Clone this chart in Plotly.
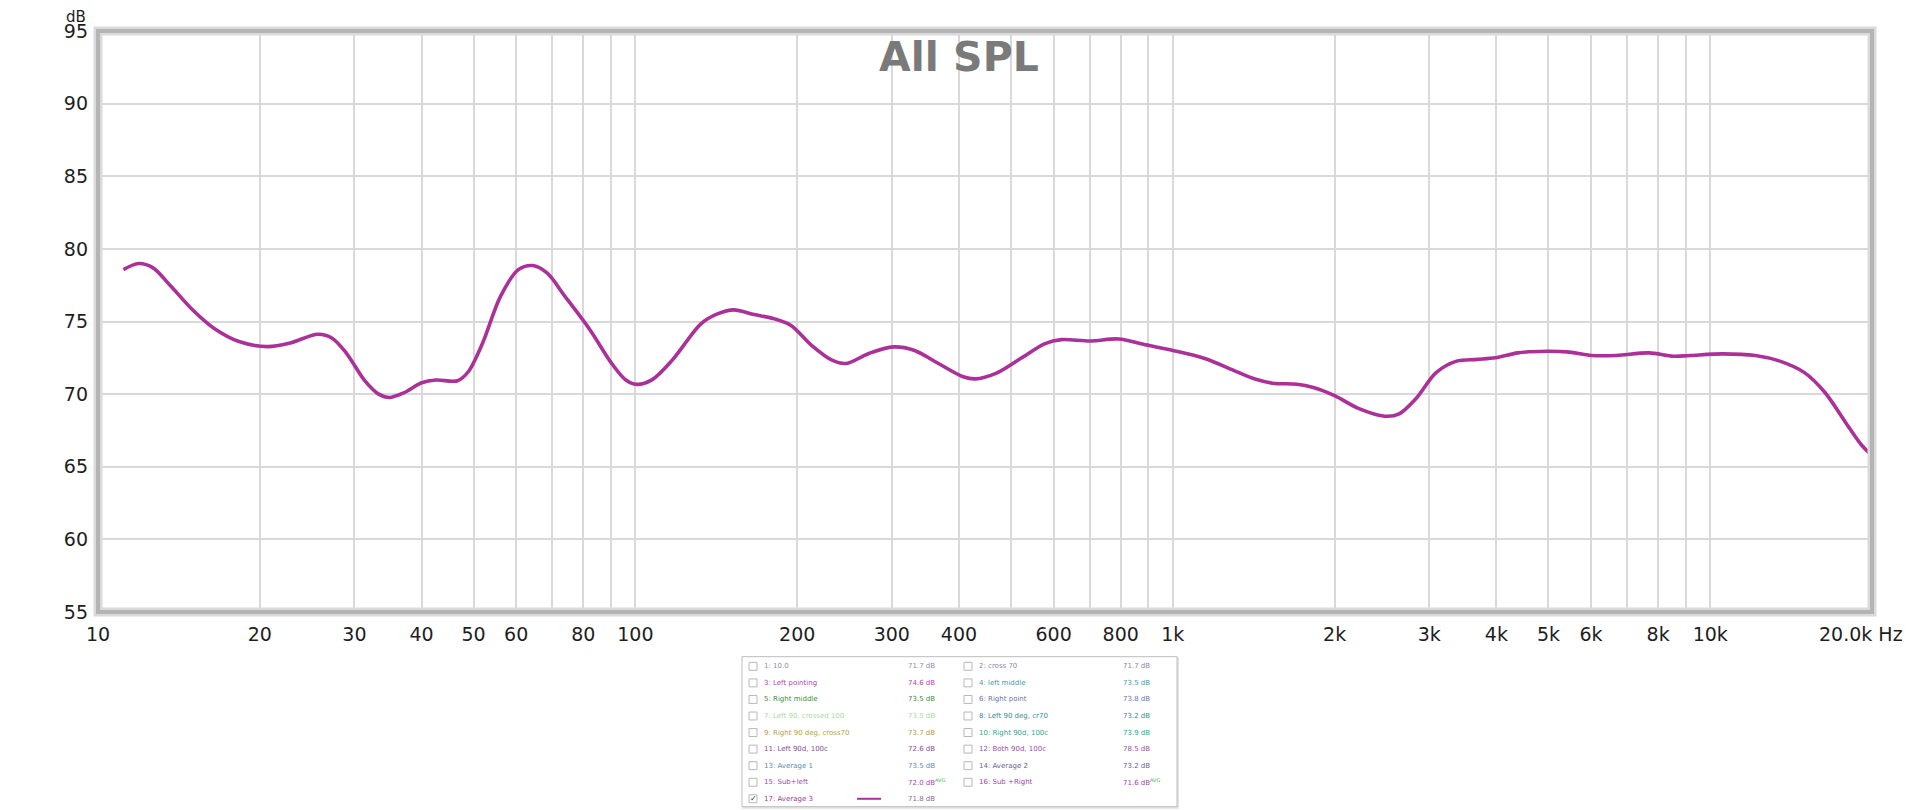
import math
import plotly.graph_objects as go

# ---------------- data ----------------
freq_hz = [11.15, 11.9, 12.66, 13.67, 14.99, 16.43, 18.3, 20.69, 22.69, 25.65, 27.27, 29.0,
           31.3, 33.3, 34.85, 37.06, 40.02, 42.56, 46.67, 48.86, 51.94, 56.1, 60.56, 64.4,
           68.47, 73.95, 82.34, 90.29, 95.99, 100.5, 107.3, 117.1, 132.4, 142.1, 152.4,
           166.3, 181.6, 194.8, 212.7, 232.2, 246.9, 271.9, 302.1, 329.9, 366.4, 407.2,
           429.1, 468.5, 520.6, 578.5, 620.3, 701.5, 793.2, 881.4, 996.5, 1147, 1310,
           1428, 1532, 1702, 1826, 2000, 2214, 2481, 2638, 2830, 3090, 3373, 3681, 3985,
           4387, 4960, 5415, 6015, 6683, 7690, 8543, 9165, 10546, 12133, 13478, 14977,
           16350, 17845, 19137, 19822]
spl_db = [78.57, 78.99, 78.69, 77.42, 75.81, 74.54, 73.62, 73.27, 73.5, 74.12, 73.85, 72.81,
          70.97, 70.0, 69.77, 70.09, 70.78, 70.97, 70.92, 71.54, 73.5, 76.73, 78.57, 78.85,
          78.34, 76.73, 74.42, 72.12, 70.97, 70.67, 70.98, 72.34, 74.84, 75.52, 75.8,
          75.48, 75.18, 74.73, 73.36, 72.34, 72.11, 72.8, 73.25, 73.02, 72.11, 71.2,
          71.05, 71.43, 72.45, 73.48, 73.75, 73.66, 73.8, 73.43, 73.02, 72.45, 71.57,
          71.02, 70.75, 70.68, 70.45, 69.89, 69.02, 68.48, 68.64, 69.66, 71.48, 72.27, 72.39, 72.5,
          72.84, 72.95, 72.91, 72.66, 72.66, 72.84, 72.61, 72.66, 72.77, 72.66, 72.27, 71.48,
          70.11, 68.07, 66.48, 65.91]

y_ticks = [55, 60, 65, 70, 75, 80, 85, 90, 95]
x_ticks = [10, 20, 30, 40, 50, 60, 80, 100, 200, 300, 400, 600, 800, 1000,
           2000, 3000, 4000, 5000, 6000, 8000, 10000]
x_tick_text = ["10", "20", "30", "40", "50", "60", "80", "100", "200", "300", "400", "600",
               "800", "1k", "2k", "3k", "4k", "5k", "6k", "8k", "10k"]
x_minor_grid = [70, 90, 500, 700, 900, 7000, 9000, 20000]
x_end_label = "20.0k Hz"

legend_names = ["1: 10.0", "2: cross 70", "3: Left pointing", "4: left middle", "5: Right middle",
                "6: Right point", "7: Left 90, crossed 100", "8: Left 90 deg, cr70",
                "9: Right 90 deg, cross70", "10: Right 90d, 100c", "11: Left 90d, 100c",
                "12: Both 90d, 100c", "13: Average 1", "14: Average 2", "15: Sub+left",
                "16: Sub +Right", "17: Average 3"]
legend_values = ["71.7 dB", "71.7 dB", "74.6 dB", "73.5 dB", "73.5 dB", "73.8 dB", "73.5 dB",
                 "73.2 dB", "73.7 dB", "73.9 dB", "72.6 dB", "78.5 dB", "73.5 dB", "73.2 dB",
                 "72.0 dB", "71.6 dB", "71.8 dB"]
legend_avg = [False] * 14 + [True, True, False]
legend_colors = ["#928ab0", "#8a86aa", "#b446ac", "#4a98a8", "#3f8c40", "#6a74a6", "#a6dca0",
                 "#3a8a98", "#b4a044", "#36a48c", "#8a4a98", "#9c4ea2", "#5a8eb0", "#5f6694",
                 "#a64aa8", "#9c48a8", "#9a3d90"]
legend_checked = [False] * 16 + [True]

CURVE = "#ab3198"

# ---------------- layout helpers ----------------
W, H = 1920, 810
OFF = 8  # page body margin
# plot-area edges in page pixels
PL, PR, PT, PB = 98, 1872, 27, 612
L, R, T, B = PL - OFF, PR - OFF, PT - OFF, PB - OFF


def pxx(x):
    return (x - OFF - L) / (R - L)


def pxy(y):
    return (B - (y - OFF)) / (B - T)


fig = go.Figure()
fig.add_trace(go.Scatter(x=freq_hz, y=spl_db, mode="lines",
                         line=dict(color=CURVE, width=3.6, shape="spline", smoothing=0.9),
                         hoverinfo="x+y", showlegend=False))

font_fam = "DejaVu Sans"
tick_font = dict(family=font_fam, size=19, color="#1e1e1e")

fig.update_layout(
    width=W, height=H,
    margin=dict(l=L, r=W - R, t=T, b=H - B, pad=0),
    paper_bgcolor="white", plot_bgcolor="white",
    showlegend=False,
    xaxis=dict(type="log", range=[math.log10(10), math.log10(20000)],
               tickmode="array", tickvals=x_ticks, ticktext=x_tick_text, tickangle=0,
               showgrid=True, gridcolor="#d9d9d9", gridwidth=2, zeroline=False,
               showline=False, ticks="", ticklabelstandoff=9, tickfont=tick_font,
               minor=dict(tickmode="array", tickvals=x_minor_grid, showgrid=True,
                          gridcolor="#d9d9d9", gridwidth=2, ticks="")),
    yaxis=dict(range=[55, 95], tickvals=y_ticks, ticktext=[str(v) for v in y_ticks],
               showgrid=True, gridcolor="#d9d9d9", gridwidth=2, zeroline=False,
               showline=False, ticks="", ticklabelstandoff=9, tickfont=tick_font),
)

shapes = []
# plot frame with soft shadow
shapes.append(dict(type="rect", xref="paper", yref="paper", x0=0, x1=1, y0=0, y1=1,
                   line=dict(color="#dadada", width=9), layer="above"))
shapes.append(dict(type="rect", xref="paper", yref="paper", x0=0, x1=1, y0=0, y1=1,
                   line=dict(color="#b4b4b4", width=4), layer="above"))

annotations = []
annotations.append(dict(text="<b>All SPL</b>", xref="paper", yref="paper",
                        x=pxx(959), y=pxy(53), xanchor="center", yanchor="middle",
                        showarrow=False, font=dict(family=font_fam, size=41, color="#7a7a7a")))
annotations.append(dict(text="dB", xref="paper", yref="paper", x=pxx(76), y=pxy(13),
                        xanchor="center", yanchor="middle", showarrow=False, borderpad=0,
                        font=dict(family=font_fam, size=15, color="#1e1e1e")))
annotations.append(dict(text=x_end_label, xref="paper", yref="paper", x=pxx(1861), y=pxy(634),
                        xanchor="center", yanchor="middle", showarrow=False, font=tick_font))

# legend box
bx0, bx1, by0, by1 = 742, 1177, 657, 808
shapes.append(dict(type="rect", xref="paper", yref="paper", x0=pxx(bx0 + 1), x1=pxx(bx1 + 1),
                   y0=pxy(by0 + 1), y1=pxy(by1 + 1), line=dict(color="#e2e2e2", width=2),
                   fillcolor="#ededed", layer="below"))
shapes.append(dict(type="rect", xref="paper", yref="paper", x0=pxx(bx0), x1=pxx(bx1),
                   y0=pxy(by0), y1=pxy(by1), line=dict(color="#bdbdbd", width=1),
                   fillcolor="white", layer="below"))

col_cb = [753, 968]
col_name = [762, 977]
col_val = [906, 1121]
for i, name in enumerate(legend_names):
    col = i % 2
    row = i // 2
    yc = 666.7 + 16.67 * row
    c = legend_colors[i]
    shapes.append(dict(type="rect", xref="paper", yref="paper",
                       x0=pxx(col_cb[col] - 4), x1=pxx(col_cb[col] + 4),
                       y0=pxy(yc - 4), y1=pxy(yc + 4),
                       line=dict(color="#b8b8b8", width=1), fillcolor="white"))
    if legend_checked[i]:
        annotations.append(dict(text="✓", xref="paper", yref="paper", x=pxx(col_cb[col]),
                                y=pxy(yc), xanchor="center", yanchor="middle", showarrow=False,
                                font=dict(family=font_fam, size=8, color="#333")))
        shapes.append(dict(type="line", xref="paper", yref="paper",
                           x0=pxx(857), x1=pxx(881), y0=pxy(yc), y1=pxy(yc),
                           line=dict(color=CURVE, width=2)))
    annotations.append(dict(text=name, xref="paper", yref="paper", x=pxx(col_name[col]),
                            y=pxy(yc), xanchor="left", yanchor="middle", showarrow=False,
                            font=dict(family=font_fam, size=7, color=c)))
    val = legend_values[i]
    if legend_avg[i]:
        val += "<sup><span style='color:#3cb043'>AVG</span></sup>"
    annotations.append(dict(text=val, xref="paper", yref="paper", x=pxx(col_val[col]),
                            y=pxy(yc), xanchor="left", yanchor="middle", showarrow=False,
                            font=dict(family=font_fam, size=7,
                                      color=c if i < 16 else "#8a6a90")))

fig.update_layout(shapes=shapes, annotations=annotations)
fig.write_html("out.html")
